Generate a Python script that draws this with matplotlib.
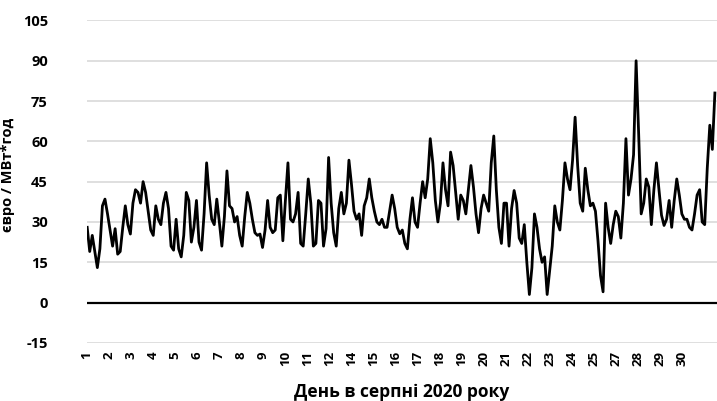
import numpy as np
import matplotlib.pyplot as plt

plt.rcParams['font.family'] = ['Open Sans', 'DejaVu Sans']
plt.rcParams['axes.unicode_minus'] = False

# Ціна, євро / МВт*год, кожні 3 години (0, 3, ..., 21 год) для кожного дня серпня 2020
price_by_day = [
    [28, 19, 25, 19, 13, 20, 36, 38.5],   # 1
    [33, 27, 21, 27.5, 18, 19, 28, 36],   # 2
    [29, 25.5, 37, 42, 41, 37, 45, 41],   # 3
    [34, 27, 25, 36, 31, 29, 37, 41],     # 4
    [35, 21, 19.5, 31, 20, 17, 25, 41],   # 5
    [38, 22.5, 28, 38, 22.5, 19.5, 33, 52],  # 6
    [40, 31, 29, 38.5, 30, 21, 32, 49],   # 7
    [36, 35, 30, 32, 25, 21, 32, 41],     # 8
    [37, 31, 26, 25, 25.5, 20.5, 27, 38],  # 9
    [28, 26, 27, 39, 40, 23, 38, 52],     # 10
    [31, 30, 33, 41, 22, 21, 33, 46],     # 11
    [37, 21, 22, 38, 37, 21, 27.5, 54],   # 12
    [37, 26, 21, 35, 41, 33, 37, 53],     # 13
    [44, 34, 31, 33, 25, 36, 39, 46],     # 14
    [39, 34, 30, 29, 31, 28, 28, 34],     # 15
    [40, 35, 28, 25.6, 27, 22, 20, 31],   # 16
    [39, 30, 28, 37, 45, 39, 46, 61],     # 17
    [52, 38, 30, 37, 52, 42, 36, 56],     # 18
    [51, 41, 31, 40, 38, 33, 42, 51],     # 19
    [43, 33, 26, 35, 40, 37, 34, 52],     # 20
    [62, 42, 28, 22, 37, 37, 21, 35],     # 21
    [41.7, 37, 24, 22, 29, 15, 3, 13],    # 22
    [33, 28, 20, 15, 17, 3, 12, 21],      # 23
    [36, 30, 27, 38, 52, 46, 42, 53],     # 24
    [69, 51, 37, 34, 50, 42, 36, 37],     # 25
    [34, 23, 10, 4, 37, 28, 22, 29],      # 26
    [34, 32, 24, 37, 61, 40, 46, 55],     # 27
    [90, 63, 33, 37, 46, 43, 29, 42],     # 28
    [52, 42, 32.5, 28.7, 31, 38, 28, 38],  # 29
    [46, 40, 33, 31, 31, 28, 27, 33],     # 30
    [40, 42, 30, 29, 50, 66, 57, 78],     # 31
]

price = np.array(price_by_day).ravel()
hours = np.arange(len(price)) * 3

# підписи осі X у стилі Excel: кожні 26 годин
tick_hours = np.arange(0, 703, 26)
tick_labels = [str(h // 24 + 1) for h in tick_hours]

fig = plt.figure(figsize=(7.17, 4.01), dpi=100)
ax = fig.add_axes([0.121, 0.145, 0.879, 0.804])

ax.set_ylim(-15, 105)
ax.set_yticks(range(-15, 106, 15))
ax.set_xlim(-0.5, 743.5)
ax.grid(axis='y', color='#d9d9d9', linewidth=1.2)
ax.set_axisbelow(True)
ax.axhline(0, color='black', linewidth=1.6, zorder=2)

ax.plot(hours, price, color='black', linewidth=2.0, zorder=3)

ax.tick_params(length=0)
ax.tick_params(axis='x', pad=6, labelrotation=90, labelsize=9.5)
ax.tick_params(axis='y', pad=28, labelsize=10.5)
ax.set_xticks(tick_hours, tick_labels)
for t in ax.get_xticklabels():
    t.set_fontweight('bold')
for t in ax.get_yticklabels():
    t.set_fontweight('bold')

for s in ax.spines.values():
    s.set_visible(False)

ax.set_xlabel('День в серпні 2020 року', fontweight='bold', fontsize=12.5)
ax.xaxis.set_label_coords(0.5, -0.125)
ax.set_ylabel('євро / МВт*год', fontweight='bold', fontsize=10.5)
ax.yaxis.set_label_coords(-0.114, 0.52)

fig.savefig('out.png', dpi=100)
